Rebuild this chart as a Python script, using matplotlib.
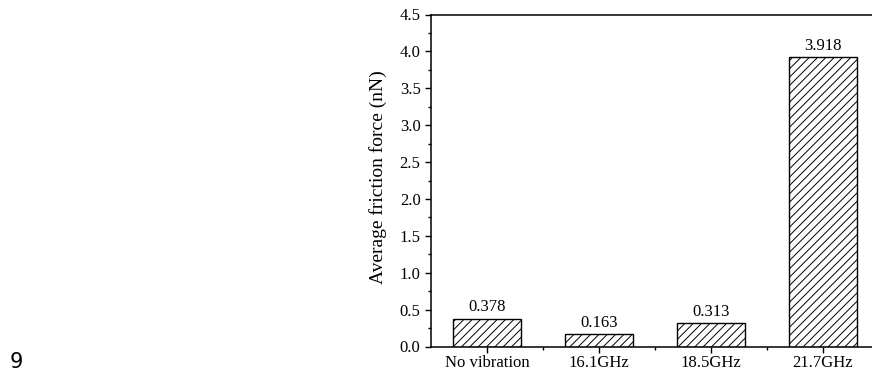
import matplotlib.pyplot as plt
from matplotlib.ticker import MultipleLocator, FixedLocator

categories = ["No vibration", "16.1GHz", "18.5GHz", "21.7GHz"]
friction = [0.378, 0.163, 0.313, 3.918]

plt.rcParams['font.family'] = ['Liberation Serif', 'DejaVu Serif']
plt.rcParams['hatch.linewidth'] = 0.7

fig = plt.figure(figsize=(8.72, 3.76), dpi=100)
# axes extends past the right edge of the figure
ax = fig.add_axes([431 / 872, 1 - 346.5 / 376, 448 / 872, 332 / 376])

x = range(len(categories))
bars = ax.bar(x, friction, width=0.6, color='white', edgecolor='black',
              linewidth=1.0, hatch='////')
for xi, v in zip(x, friction):
    ax.text(xi, v + 0.05, f"{v:.3f}", ha='center', va='bottom', fontsize=12)

ax.set_xlim(-0.5, 3.5)
ax.set_ylim(0, 4.5)
ax.set_xticks(list(x))
ax.set_xticklabels(categories, fontsize=12)
ax.xaxis.set_minor_locator(FixedLocator([0.5, 1.5, 2.5]))
ax.yaxis.set_major_locator(MultipleLocator(0.5))
ax.yaxis.set_minor_locator(MultipleLocator(0.25))
ax.yaxis.set_major_formatter(plt.FormatStrFormatter('%.1f'))
ax.tick_params(axis='y', labelsize=12)
ax.tick_params(which='major', direction='out', length=4, width=1)
ax.tick_params(which='minor', direction='out', length=2.5, width=1)
ax.tick_params(axis='x', pad=2)
for s in ax.spines.values():
    s.set_linewidth(1.1)

ax.set_ylabel("Average friction force (nN)", fontsize=14)
ax.yaxis.set_label_coords(-0.098, 0.51)

fig.text(10 / 872, 1 - 362 / 376, "9", fontsize=15, family='DejaVu Sans',
         va='center', ha='left')

fig.savefig("out.png", dpi=100)
